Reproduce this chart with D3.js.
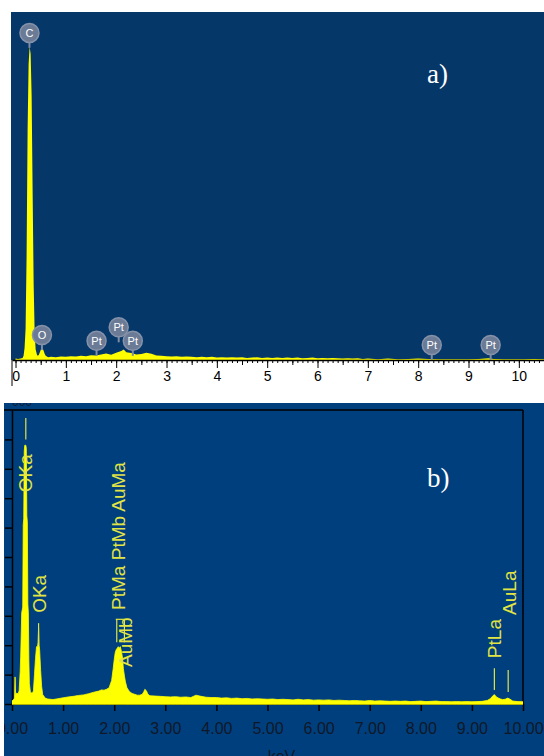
<!DOCTYPE html>
<html>
<head>
<meta charset="utf-8">
<script src="https://cdn.jsdelivr.net/npm/d3@7"></script>
<style>
  body { margin: 0; background: #fff; }
  svg { display: block; }
  text { font-family: "Liberation Sans", Arial, sans-serif; }
</style>
</head>
<body>
<div id="chart"></div>
<script>
// ---- panel a) spectrum (counts, arbitrary units 0-100) ----
const energyA = [0.0, 0.05, 0.1, 0.14, 0.16, 0.18, 0.2, 0.22, 0.24, 0.26, 0.28, 0.3, 0.32, 0.34, 0.36, 0.38, 0.4,
  0.43, 0.46, 0.48, 0.5, 0.52, 0.54, 0.56, 0.58, 0.6, 0.63, 0.66,
  0.7, 0.8, 0.9, 1.0, 1.1, 1.2, 1.3, 1.4, 1.5, 1.6, 1.7, 1.8, 1.9, 2.0, 2.1, 2.15, 2.2, 2.3, 2.4, 2.5, 2.6, 2.7,
  2.8, 2.9, 3.0, 3.1, 3.2, 3.3, 3.4, 3.5, 3.6, 3.7, 3.8, 3.9, 4.0, 4.1, 4.2, 4.3, 4.4, 4.5, 4.6, 4.7, 4.8, 4.9,
  5.0, 5.1, 5.2, 5.3, 5.4, 5.5, 5.6, 5.7, 5.8, 5.9, 6.0, 6.1, 6.2, 6.3, 6.4, 6.5, 6.6, 6.7, 6.8, 6.9, 7.0, 7.2,
  7.4, 7.6, 7.8, 8.0, 8.2, 8.4, 8.6, 8.8, 9.0, 9.2, 9.4, 9.5, 9.7, 9.9, 10.1, 10.3, 10.5];
const countsA = [0.4, 0.3, 0.4, 0.6, 1.2, 3.5, 9, 30, 66, 85, 90, 88, 76, 48, 22, 8, 3,
  1.3, 1.4, 2.1, 2.9, 3.5, 3.3, 2.6, 1.7, 1.2, 0.9, 0.8,
  0.9, 0.8, 1.0, 0.9, 1.1, 1.0, 1.2, 1.1, 1.4, 1.3, 1.6, 1.9, 1.5, 2.1, 2.6, 3.0, 2.2, 2.0, 1.6, 1.7, 2.1, 1.8,
  1.3, 1.2, 1.1, 1.0, 1.1, 0.9, 1.0, 0.9, 0.8, 0.9, 0.8, 0.9, 0.7, 0.8, 0.7, 0.8, 0.7, 0.8, 0.6, 0.7, 0.8, 0.6,
  0.7, 0.6, 0.7, 0.6, 0.7, 0.6, 0.7, 0.5, 0.6, 0.7, 0.5, 0.6, 0.5, 0.6, 0.5, 0.4, 0.5, 0.4, 0.5, 0.3, 0.4, 0.2,
  0.4, 0.2, 0.3, 0.4, 0.3, 0.2, 0.2, 0.2, 0.2, 0.3, 0.5, 0.3, 0.2, 0.2, 0.2, 0.3, 0.2];

// element markers in panel a)
const markerLabelA = ["C", "O", "Pt", "Pt", "Pt", "Pt", "Pt"];
const markerEnergyA = [0.277, 0.525, 1.61, 2.05, 2.33, 8.27, 9.44];
const markerLevelA = [94, 7.2, 5.5, 9.4, 5.5, 4.3, 4.3];
const tickLabelsA = d3.range(0, 11);

// ---- panel b) spectrum (counts in y-tick units 0-10) ----
const energyB = [0.0, 0.03, 0.05, 0.06, 0.07, 0.09, 0.12, 0.14, 0.16, 0.17, 0.19, 0.21, 0.22, 0.23, 0.24, 0.25, 0.27,
  0.28, 0.29, 0.3, 0.31, 0.32, 0.33, 0.34, 0.36, 0.38, 0.4, 0.42, 0.44, 0.46, 0.48, 0.5, 0.51, 0.52, 0.53, 0.54,
  0.56, 0.58, 0.6, 0.65, 0.7, 0.8, 0.9, 1.0, 1.1, 1.2, 1.3, 1.4, 1.5, 1.6, 1.7, 1.75, 1.8, 1.85, 1.9, 1.95, 1.98,
  2.0, 2.02, 2.04, 2.06, 2.08, 2.1, 2.12, 2.14, 2.16, 2.18, 2.2, 2.22, 2.25, 2.3, 2.35, 2.4, 2.45, 2.5, 2.55, 2.58,
  2.6, 2.63, 2.66, 2.7, 2.8, 2.9, 3.0, 3.1, 3.2, 3.3, 3.4, 3.5, 3.6, 3.7, 3.8, 3.9, 4.0, 4.1, 4.2, 4.3, 4.4, 4.5,
  4.6, 4.7, 4.8, 4.9, 5.0, 5.1, 5.2, 5.3, 5.4, 5.5, 5.6, 5.7, 5.8, 5.9, 6.0, 6.1, 6.2, 6.3, 6.4, 6.5, 6.6, 6.7,
  6.8, 6.9, 7.0, 7.1, 7.2, 7.3, 7.4, 7.5, 7.6, 7.7, 7.8, 7.9, 8.0, 8.1, 8.2, 8.3, 8.4, 8.5, 8.6, 8.7, 8.8, 8.9,
  9.0, 9.1, 9.2, 9.3, 9.36, 9.4, 9.44, 9.48, 9.52, 9.56, 9.6, 9.65, 9.7, 9.74, 9.8, 9.9, 10.0];
const countsB = [0.1, 0.15, 0.2, 0.92, 0.3, 0.37, 0.35, 0.45, 1.1, 1.6, 3.1, 3.3, 6.1, 6.3, 8.6, 8.8, 8.8,
  8.7, 6.4, 6.2, 3.4, 3.1, 1.5, 0.7, 0.4, 0.38, 0.37, 0.45, 1.0, 1.55, 1.95, 1.95, 2.1, 2.6, 2.0, 1.85,
  1.15, 0.6, 0.32, 0.2, 0.17, 0.15, 0.18, 0.21, 0.24, 0.26, 0.29, 0.31, 0.35, 0.4, 0.44, 0.48, 0.47, 0.5, 0.55, 0.8, 1.2,
  1.5, 1.75, 1.85, 1.9, 1.95, 1.9, 1.95, 1.8, 1.6, 1.2, 0.95, 0.75, 0.55, 0.42, 0.36, 0.33, 0.3, 0.3, 0.33, 0.42,
  0.5, 0.45, 0.33, 0.28, 0.27, 0.26, 0.25, 0.24, 0.25, 0.23, 0.24, 0.22, 0.3, 0.26, 0.23, 0.22, 0.22, 0.2, 0.21, 0.19, 0.2, 0.18,
  0.19, 0.17, 0.18, 0.17, 0.16, 0.17, 0.15, 0.16, 0.15, 0.14, 0.16, 0.14, 0.15, 0.13, 0.14, 0.13, 0.14, 0.12, 0.13, 0.12, 0.11, 0.12,
  0.11, 0.1, 0.12, 0.1, 0.11, 0.1, 0.09, 0.1, 0.09, 0.1, 0.08, 0.09, 0.1, 0.08, 0.09, 0.1, 0.08, 0.08, 0.07, 0.08, 0.07, 0.08,
  0.07, 0.08, 0.09, 0.12, 0.18, 0.26, 0.32, 0.24, 0.2, 0.17, 0.15, 0.16, 0.2, 0.17, 0.1, 0.08, 0.07];

// rotated line labels in panel b)
const lineLabelB = ["OKa", "OKa", "PtMa PtMb AuMa", "AuMb", "PtLa", "AuLa"];
const lineLabelEnergyB = [0.26, 0.52, 2.08, 2.22, 9.44, 9.73];
const lineLabelStartB = [7.2, 3.1, 3.2, 1.26, 1.56, 3.03];
// marker ticks in panel b)
const markerEnergyB = [0.27, 0.52, 2.05, 2.2, 9.44, 9.71];
const markerTopB = [9.73, 2.75, 2.88, 2.88, 1.22, 1.16];
const markerBottomB = [9.0, 2.0, 2.1, 2.1, 0.48, 0.41];
const tickLabelsB = d3.range(0, 11);
const yTicksB = d3.range(0, 10);

const W = 544, H = 756;
const YELLOW = "#ffff00";
const LABEL_YELLOW = "#e2e444";

let svg = d3.select("#chart")
    .append("svg")
    .attr("width", W)
    .attr("height", H);

let defs = svg.append("defs");

// ================= panel a) =================
let xA = d3.scaleLinear().domain([-0.07, 10.5]).range([12, 544]);
let yA = d3.scaleLinear().domain([0, 100]).range([360, 12]);

svg.append("rect")
    .attr("x", 11).attr("y", 12)
    .attr("width", 533).attr("height", 348)
    .attr("fill", "#063769");

defs.append("clipPath").attr("id", "clipA")
    .append("rect").attr("x", 11).attr("y", 12).attr("width", 533).attr("height", 348);

let specA = energyA.map(function(e, i) { return { e: e, c: countsA[i] }; });

svg.append("path")
    .datum(specA)
    .attr("clip-path", "url(#clipA)")
    .attr("fill", YELLOW)
    .attr("d", d3.area()
        .x(function(d) { return xA(d.e); })
        .y0(yA(0))
        .y1(function(d) { return yA(d.c); }));

// minor ticks (0.1 keV), half ticks, then major ticks with labels
let axA = svg.append("g").attr("transform", `translate(0, ${yA(0)})`);
axA.append("g")
    .call(d3.axisBottom(xA).tickValues(d3.range(0, 10.51, 0.1)).tickSize(3).tickFormat(""))
    .call(g => g.select(".domain").remove());
axA.append("g")
    .call(d3.axisBottom(xA).tickValues(d3.range(0.5, 10.6, 1)).tickSize(5).tickFormat(""))
    .call(g => g.select(".domain").remove());
axA.append("g")
    .call(d3.axisBottom(xA).tickValues(tickLabelsA).tickSize(8).tickSizeOuter(0).tickPadding(3).tickFormat(d3.format("d")))
    .call(g => g.selectAll("text").style("font-size", "14px").attr("fill", "#000"))
    .call(g => g.select(".domain").attr("stroke-width", 1.5));
axA.append("line")
    .attr("x1", xA.range()[0]).attr("x2", xA.range()[0])
    .attr("y1", 0).attr("y2", 26)
    .attr("stroke", "#000");

// element markers (grey circles)
let mk = svg.append("g").selectAll("g")
    .data(markerLabelA.map(function(l, i) { return { l: l, e: markerEnergyA[i], v: markerLevelA[i] }; }))
    .enter().append("g")
    .attr("transform", function(d) { return `translate(${xA(d.e)}, ${yA(d.v)})`; });
mk.append("line")
    .attr("x1", 0).attr("x2", 0).attr("y1", 8).attr("y2", 15)
    .attr("stroke", "#7f8ca3").attr("stroke-width", 2);
mk.append("circle")
    .attr("r", 9.5)
    .attr("fill", "#6b7a95")
    .attr("stroke", "#8592a9")
    .attr("stroke-width", 1.5);
mk.append("text")
    .attr("text-anchor", "middle")
    .attr("dy", "0.36em")
    .attr("fill", "#fff")
    .style("font-size", "11px")
    .text(function(d) { return d.l; });

svg.append("text")
    .attr("x", 427).attr("y", 83)
    .attr("fill", "#fff")
    .style("font-family", "'Liberation Serif', 'Times New Roman', serif")
    .style("font-size", "27px")
    .text("a)");

// ================= panel b) =================
let xB = d3.scaleLinear().domain([0, 10]).range([12, 523]);
let yB = d3.scaleLinear().domain([0, 10]).range([704, 410]);

svg.append("rect")
    .attr("x", 4).attr("y", 403)
    .attr("width", 540).attr("height", 353)
    .attr("fill", "#003f7d");

defs.append("clipPath").attr("id", "clipB")
    .append("rect").attr("x", 4).attr("y", 403).attr("width", 540).attr("height", 353);
defs.append("clipPath").attr("id", "clipBplot")
    .append("rect").attr("x", 12).attr("y", 410).attr("width", 511).attr("height", 296);

let panelB = svg.append("g").attr("clip-path", "url(#clipB)");

// partly hidden top tick label
panelB.append("text")
    .attr("x", 12).attr("y", 406)
    .attr("fill", "#0b1a33")
    .style("font-size", "12px")
    .text("000");

// frame: top and right lines
panelB.append("line")
    .attr("x1", 4).attr("x2", xB(10))
    .attr("y1", yB(10)).attr("y2", yB(10))
    .attr("stroke", "#000").attr("stroke-width", 1.5);
panelB.append("line")
    .attr("x1", xB(10)).attr("x2", xB(10))
    .attr("y1", yB(10)).attr("y2", yB(0))
    .attr("stroke", "#000").attr("stroke-width", 1.5);

panelB.append("g")
    .attr("transform", `translate(${xB(0)}, 0)`)
    .call(d3.axisLeft(yB).tickValues(yTicksB).tickSize(7).tickSizeOuter(0).tickFormat(""))
    .call(g => g.selectAll("line").attr("stroke-width", 1.5))
    .call(g => g.select(".domain").attr("stroke-width", 1.5));

panelB.append("g")
    .attr("transform", `translate(0, ${yB(0)})`)
    .call(d3.axisBottom(xB).tickValues(tickLabelsB).tickSize(7).tickSizeOuter(0).tickPadding(12).tickFormat(d3.format(".2f")))
    .call(g => g.selectAll("line").attr("stroke-width", 1.5))
    .call(g => g.selectAll("text").style("font-size", "16px").attr("fill", "#101828"));

let specB = energyB.map(function(e, i) { return { e: e, c: countsB[i] }; });

let plotB = svg.append("g").attr("clip-path", "url(#clipBplot)");
plotB.append("path")
    .datum(specB)
    .attr("fill", YELLOW)
    .attr("stroke", YELLOW)
    .attr("stroke-width", 0.8)
    .attr("d", d3.area()
        .x(function(d) { return xB(d.e); })
        .y0(yB(0))
        .y1(function(d) { return yB(d.c); }));
plotB.append("line")
    .attr("x1", xB(0)).attr("x2", xB(10))
    .attr("y1", yB(0) - 1).attr("y2", yB(0) - 1)
    .attr("stroke", YELLOW).attr("stroke-width", 3);

// marker lines
plotB.selectAll("line.mark")
    .data(markerEnergyB.map(function(e, i) { return { e: e, t: markerTopB[i], b: markerBottomB[i] }; }))
    .enter().append("line")
    .attr("class", "mark")
    .attr("x1", function(d) { return xB(d.e); })
    .attr("x2", function(d) { return xB(d.e); })
    .attr("y1", function(d) { return yB(d.t); })
    .attr("y2", function(d) { return yB(d.b); })
    .attr("stroke", LABEL_YELLOW).attr("stroke-width", 1.2);
plotB.append("line")
    .attr("x1", xB(2.03)).attr("x2", xB(2.19))
    .attr("y1", yB(2.88)).attr("y2", yB(2.88))
    .attr("stroke", LABEL_YELLOW).attr("stroke-width", 1.2);

// rotated line labels
plotB.selectAll("text.lbl")
    .data(lineLabelB.map(function(l, i) { return { l: l, e: lineLabelEnergyB[i], v: lineLabelStartB[i] }; }))
    .enter().append("text")
    .attr("class", "lbl")
    .attr("transform", function(d) { return `translate(${xB(d.e) + 7}, ${yB(d.v)}) rotate(-90)`; })
    .attr("fill", LABEL_YELLOW)
    .style("font-size", "19px")
    .text(function(d) { return d.l; });

svg.append("text")
    .attr("x", 427).attr("y", 487)
    .attr("fill", "#fff")
    .style("font-family", "'Liberation Serif', 'Times New Roman', serif")
    .style("font-size", "27px")
    .text("b)");

svg.append("text")
    .attr("x", (xB(0) + xB(10)) / 2 + 14).attr("y", 762)
    .attr("text-anchor", "middle")
    .attr("fill", "#101828")
    .style("font-size", "16px")
    .text("keV");
</script>
</body>
</html>
